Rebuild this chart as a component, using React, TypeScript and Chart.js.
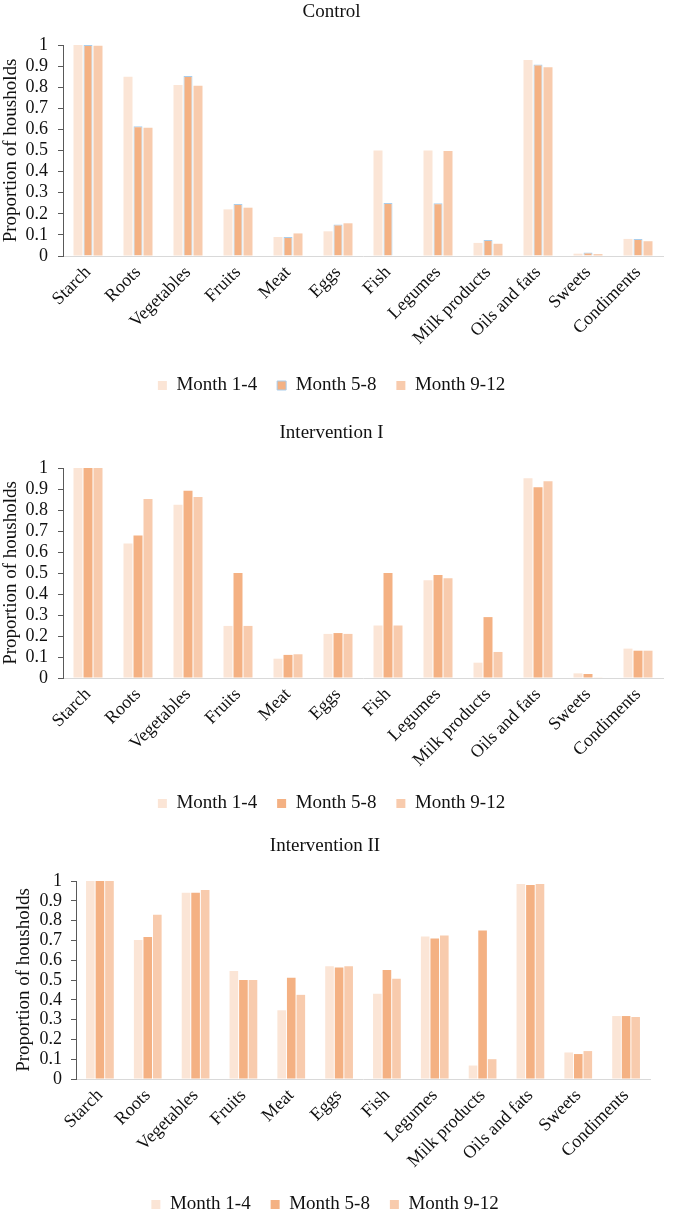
import React, { useEffect, useRef } from 'react';
import { Chart, registerables } from 'chart.js';

Chart.register(...registerables);

const CATEGORIES = ['Starch', 'Roots', 'Vegetables', 'Fruits', 'Meat', 'Eggs', 'Fish', 'Legumes', 'Milk products', 'Oils and fats', 'Sweets', 'Condiments'];
const SERIES_LABELS = ['Month 1-4', 'Month 5-8', 'Month 9-12'];
const Y_TICKS = [0, 0.1, 0.2, 0.3, 0.4, 0.5, 0.6, 0.7, 0.8, 0.9, 1];
const Y_TICK_LABELS = ['0', '0.1', '0.2', '0.3', '0.4', '0.5', '0.6', '0.7', '0.8', '0.9', '1'];
const Y_TITLE = 'Proportion of housholds';

const CONTROL_M1_4 = [1, 0.85, 0.81, 0.221, 0.09, 0.117, 0.5, 0.5, 0.062, 0.929, 0.011, 0.081];
const CONTROL_M5_8 = [1, 0.615, 0.853, 0.246, 0.09, 0.149, 0.251, 0.25, 0.076, 0.908, 0.016, 0.081];
const CONTROL_M9_12 = [0.997, 0.608, 0.807, 0.229, 0.107, 0.155, 0, 0.498, 0.058, 0.894, 0.009, 0.07];

const INT1_M1_4 = [1, 0.64, 0.825, 0.248, 0.092, 0.21, 0.25, 0.465, 0.073, 0.951, 0.022, 0.14];
const INT1_M5_8 = [1, 0.678, 0.892, 0.5, 0.11, 0.214, 0.5, 0.49, 0.29, 0.908, 0.019, 0.13];
const INT1_M9_12 = [1, 0.852, 0.862, 0.248, 0.113, 0.21, 0.25, 0.475, 0.124, 0.937, 0.003, 0.13];

const INT2_M1_4 = [1, 0.702, 0.941, 0.546, 0.347, 0.57, 0.43, 0.72, 0.068, 0.985, 0.134, 0.318];
const INT2_M5_8 = [1, 0.717, 0.941, 0.5, 0.511, 0.563, 0.551, 0.71, 0.75, 0.98, 0.126, 0.318];
const INT2_M9_12 = [1, 0.829, 0.955, 0.5, 0.425, 0.57, 0.506, 0.725, 0.1, 0.985, 0.141, 0.313];

const COLORS = ['#FBE5D6', '#F4B183', '#F8CBAD'];
const FONT = "'Liberation Serif', 'Times New Roman', serif";
const TEXT = '#111111';

type PanelProps = {
  title: string;
  series: number[][];
  top: number;
  height: number;
  titlePad: { top: number; bottom: number };
  yWidth: number;
  yTitlePad: number;
  yTickPad: number;
  xHeight: number;
  rightPad: number;
  blueEdge: boolean;
};

function Panel(p: PanelProps) {
  const ref = useRef<HTMLCanvasElement | null>(null);
  useEffect(() => {
    if (!ref.current) return;
    const chart = new Chart(ref.current, {
      type: 'bar',
      data: {
        labels: CATEGORIES,
        datasets: p.series.map((d, i) => ({
          label: SERIES_LABELS[i],
          data: d,
          backgroundColor: COLORS[i],
          borderColor: p.blueEdge && i === 1 ? '#A9CDEB' : COLORS[i],
          borderWidth: p.blueEdge && i === 1 ? 1 : 0,
          categoryPercentage: 0.6,
          barPercentage: 0.9,
        })),
      },
      options: {
        animation: false,
        responsive: false,
        devicePixelRatio: 1,
        layout: { padding: { left: 0, right: p.rightPad, top: 0, bottom: 0 } },
        plugins: {
          tooltip: { enabled: false },
          title: {
            display: true,
            text: p.title,
            color: TEXT,
            font: { family: FONT, size: 19, weight: 'normal' },
            padding: p.titlePad,
          },
          legend: {
            display: true,
            position: 'bottom',
            labels: {
              color: TEXT,
              font: { family: FONT, size: 19 },
              boxWidth: 9,
              boxHeight: 9,
              padding: 20,
            },
          },
        },
        scales: {
          x: {
            grid: { display: false, drawTicks: false },
            border: { display: true, color: '#D9D9D9', width: 1 },
            ticks: {
              color: TEXT,
              font: { family: FONT, size: 18 },
              maxRotation: 45,
              minRotation: 45,
              autoSkip: false,
              padding: 6,
            },
            afterFit: (s: any) => { s.height = p.xHeight; },
          },
          y: {
            min: 0,
            max: 1,
            afterBuildTicks: (s: any) => { s.ticks = Y_TICKS.map((v) => ({ value: v })); },
            grid: { display: true, drawOnChartArea: false, drawTicks: true, tickLength: 5, color: '#595959' },
            border: { display: true, color: '#595959', width: 1 },
            ticks: {
              color: TEXT,
              font: { family: FONT, size: 18 },
              padding: p.yTickPad,
              autoSkip: false,
              callback: (v: any) => {
                const i = Y_TICKS.findIndex((t) => Math.abs(t - Number(v)) < 1e-6);
                return i >= 0 ? Y_TICK_LABELS[i] : '';
              },
            },
            title: {
              display: true,
              text: Y_TITLE,
              color: TEXT,
              font: { family: FONT, size: 19 },
              padding: { top: p.yTitlePad, bottom: 0 },
            },
            afterFit: (s: any) => { s.width = p.yWidth; },
          },
        },
      },
    } as any);
    return () => chart.destroy();
  }, []);
  return (
    <div style={{ position: 'absolute', left: 0, top: p.top, width: 685, height: p.height }}>
      <canvas ref={ref} width={685} height={p.height} style={{ width: 685, height: p.height, display: 'block' }} />
    </div>
  );
}

export default function App() {
  return (
    <div style={{ position: 'absolute', left: 0, top: 0, width: 685, height: 1213, overflow: 'hidden', background: '#fff' }}>
      <Panel title="Control" series={[CONTROL_M1_4, CONTROL_M5_8, CONTROL_M9_12]} top={0} height={405}
        titlePad={{ top: 0.6, bottom: 21.6 }} yWidth={63} yTitlePad={0} yTickPad={10} xHeight={100} rightPad={22} blueEdge={true} />
      <Panel title="Intervention I" series={[INT1_M1_4, INT1_M5_8, INT1_M9_12]} top={405} height={418}
        titlePad={{ top: 16.6, bottom: 23.6 }} yWidth={63} yTitlePad={0} yTickPad={10} xHeight={96} rightPad={22} blueEdge={false} />
      <Panel title="Intervention II" series={[INT2_M1_4, INT2_M5_8, INT2_M9_12]} top={822} height={402}
        titlePad={{ top: 12.6, bottom: 23.6 }} yWidth={76} yTitlePad={12.6} yTickPad={9} xHeight={96} rightPad={35} blueEdge={false} />
    </div>
  );
}
